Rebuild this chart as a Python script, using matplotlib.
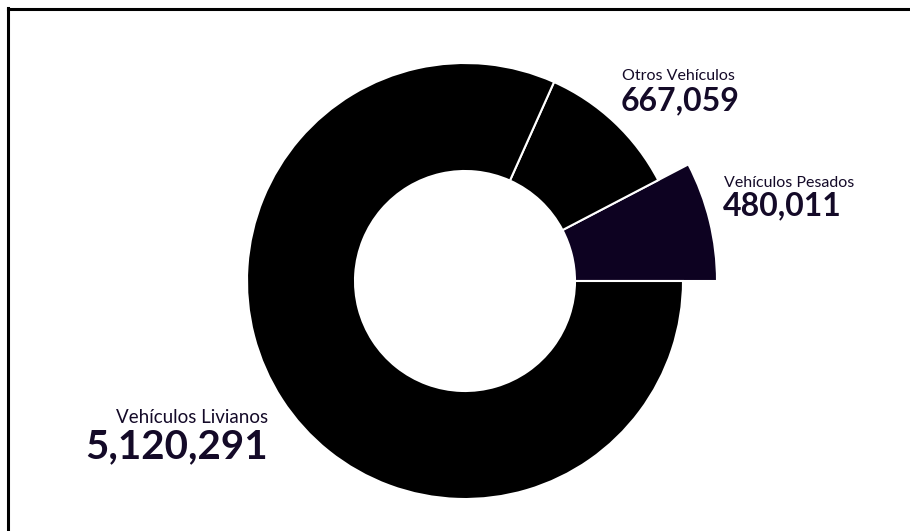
import matplotlib.pyplot as plt
from matplotlib.lines import Line2D

labels = ['Vehículos Pesados', 'Otros Vehículos', 'Vehículos Livianos']
values = [480011, 667059, 5120291]
colors = ['#0d0221', '#000000', '#000000']
text_color = '#140a28'

W, H = 910, 531
fig = plt.figure(figsize=(W / 100, H / 100), dpi=100)
ax = fig.add_axes([0, 0, 1, 1])

cx, cy = 465, 281
r_out, r_in = 218, 110

wedges, _ = ax.pie(values, colors=colors, startangle=0, counterclock=True,
                   center=(cx, H - cy), radius=r_out,
                   wedgeprops=dict(width=r_out - r_in, edgecolor='white', linewidth=1.5))
# highlighted slice sticks out further
wedges[0].set_radius(252)
wedges[0].set_width(252 - r_in)

ax.set_xlim(0, W)
ax.set_ylim(0, H)
ax.set_aspect('equal')
ax.axis('off')


def txt(x, y, s, size, ha='left', weight='normal'):
    ax.text(x, H - y, s, fontsize=size, ha=ha, va='baseline', color=text_color,
            family='Lato', fontweight=weight)


fmt = lambda v: '{:,}'.format(v)

txt(622, 80, labels[1], 11.5)
txt(621, 110, fmt(values[1]), 23, weight='bold')
txt(724, 187, labels[0], 11.5)
txt(723, 215, fmt(values[0]), 23, weight='bold')
txt(268, 423, labels[2], 13.5, ha='right')
txt(268, 458, fmt(values[2]), 29, ha='right', weight='bold')

# top and left frame lines
fig.add_artist(Line2D([8 / W, 8 / W], [0, 1 - 8 / H], color='black', lw=2.2))
fig.add_artist(Line2D([8 / W, 1], [1 - 9 / H, 1 - 9 / H], color='black', lw=2.2))

fig.savefig('out.png', dpi=100)
